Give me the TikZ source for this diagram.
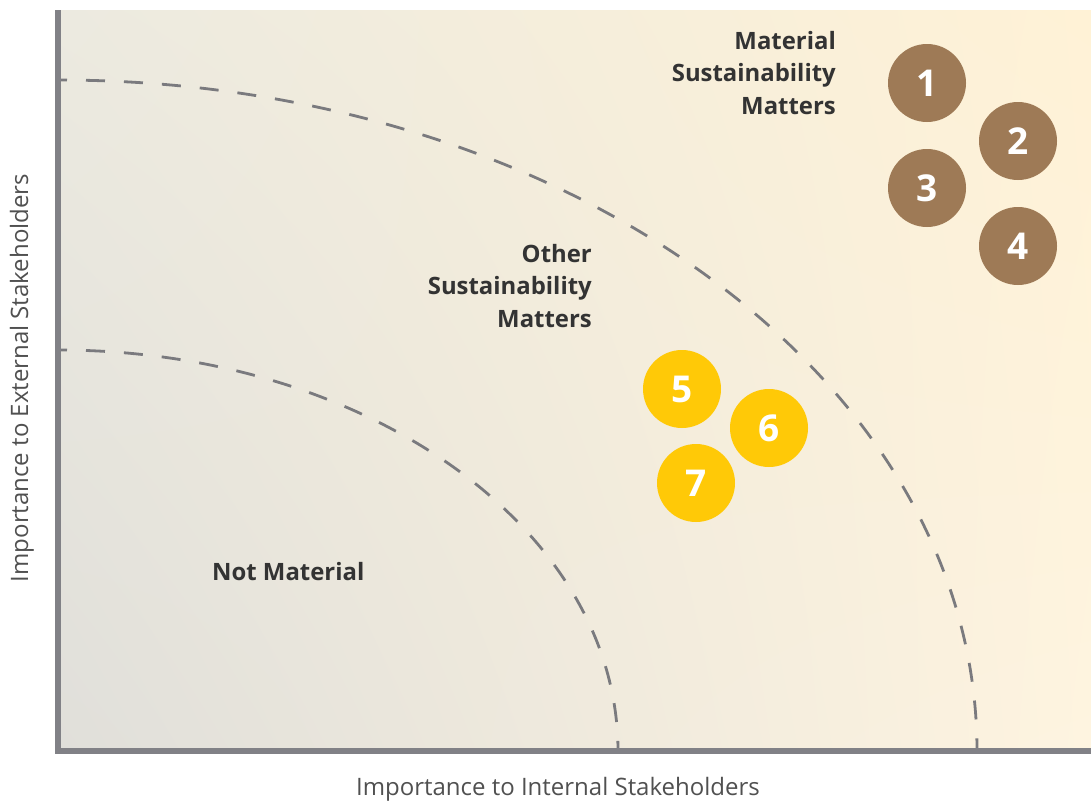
\documentclass[tikz,border=0pt]{standalone}
\usepackage{fontspec}
\setmainfont{Open Sans}
\usetikzlibrary{shadings}
\definecolor{axisgray}{HTML}{818186}
\definecolor{dashgray}{HTML}{7A7A7E}
\definecolor{labelgray}{HTML}{505050}
\definecolor{inkdark}{HTML}{333333}
\definecolor{matbrown}{HTML}{9E7A56}
\definecolor{othyellow}{HTML}{FFC907}
\definecolor{bgUL}{HTML}{ECEAE0}
\definecolor{bgUR}{HTML}{FFF2D6}
\definecolor{bgLL}{HTML}{E0DFDA}
\definecolor{bgLR}{HTML}{FEF4E0}
\tikzset{
  bubble/.style={circle, minimum size=78pt, inner sep=0pt, text=white,
    font=\bfseries\fontsize{37}{37}\selectfont},
  material/.style={bubble, fill=matbrown},
  other/.style={bubble, fill=othyellow},
  zonelabel/.style={inner sep=0pt, text=inkdark, align=right,
    font=\bfseries\fontsize{23.9}{32.3}\selectfont},
  axislabel/.style={inner sep=0pt, text=labelgray,
    font=\fontsize{24}{28}\selectfont},
  boundary/.style={draw=dashgray, line width=2.8pt, dash pattern=on 19pt off 19pt, dash phase=10pt},
  axisline/.style={draw=axisgray, line width=6pt, line join=miter}
}
\begin{document}
\begin{tikzpicture}[x=1pt, y=-1pt]
  \useasboundingbox (0,0) rectangle (1091,803);
  % plot area
  \shade[upper left=bgUL, upper right=bgUR, lower left=bgLL, lower right=bgLR]
    (58,10) rectangle (1091,751);

  % zone boundaries (quarter ellipses about the origin)
  \draw[boundary] (58,80) arc[start angle=90, end angle=0, x radius=919pt, y radius=671pt];
  \draw[boundary] (58,350) arc[start angle=90, end angle=0, x radius=560pt, y radius=401pt];

  % axes
  \coordinate (ytop) at (58,10);
  \coordinate (origin) at (58,751);
  \coordinate (xend) at (1091,751);
  \draw[axisline] (ytop) -- (origin) -- (xend);

  % zone labels
  \node[zonelabel, anchor=east] (matlabel) at (836,73) {Material\\Sustainability\\Matters};
  \node[zonelabel, anchor=east] (othlabel) at (592,286) {Other\\Sustainability\\Matters};
  \node[zonelabel, anchor=base west] (notlabel) at (212,580) {Not Material};

  % material matters
  \node[material] (c1) at (927,83) {1};
  \node[material] (c2) at (1018,141) {2};
  \node[material] (c3) at (927,188) {3};
  \node[material] (c4) at (1018,246) {4};

  % other matters
  \node[other] (c5) at (682,389) {5};
  \node[other] (c6) at (769,428) {6};
  \node[other] (c7) at (696,483) {7};

  % axis titles
  \node[axislabel] (xlabel) at (558,789) {Importance to Internal Stakeholders};
  \node[axislabel, rotate=90] (ylabel) at (22,378) {Importance to External Stakeholders};
\end{tikzpicture}
\end{document}
